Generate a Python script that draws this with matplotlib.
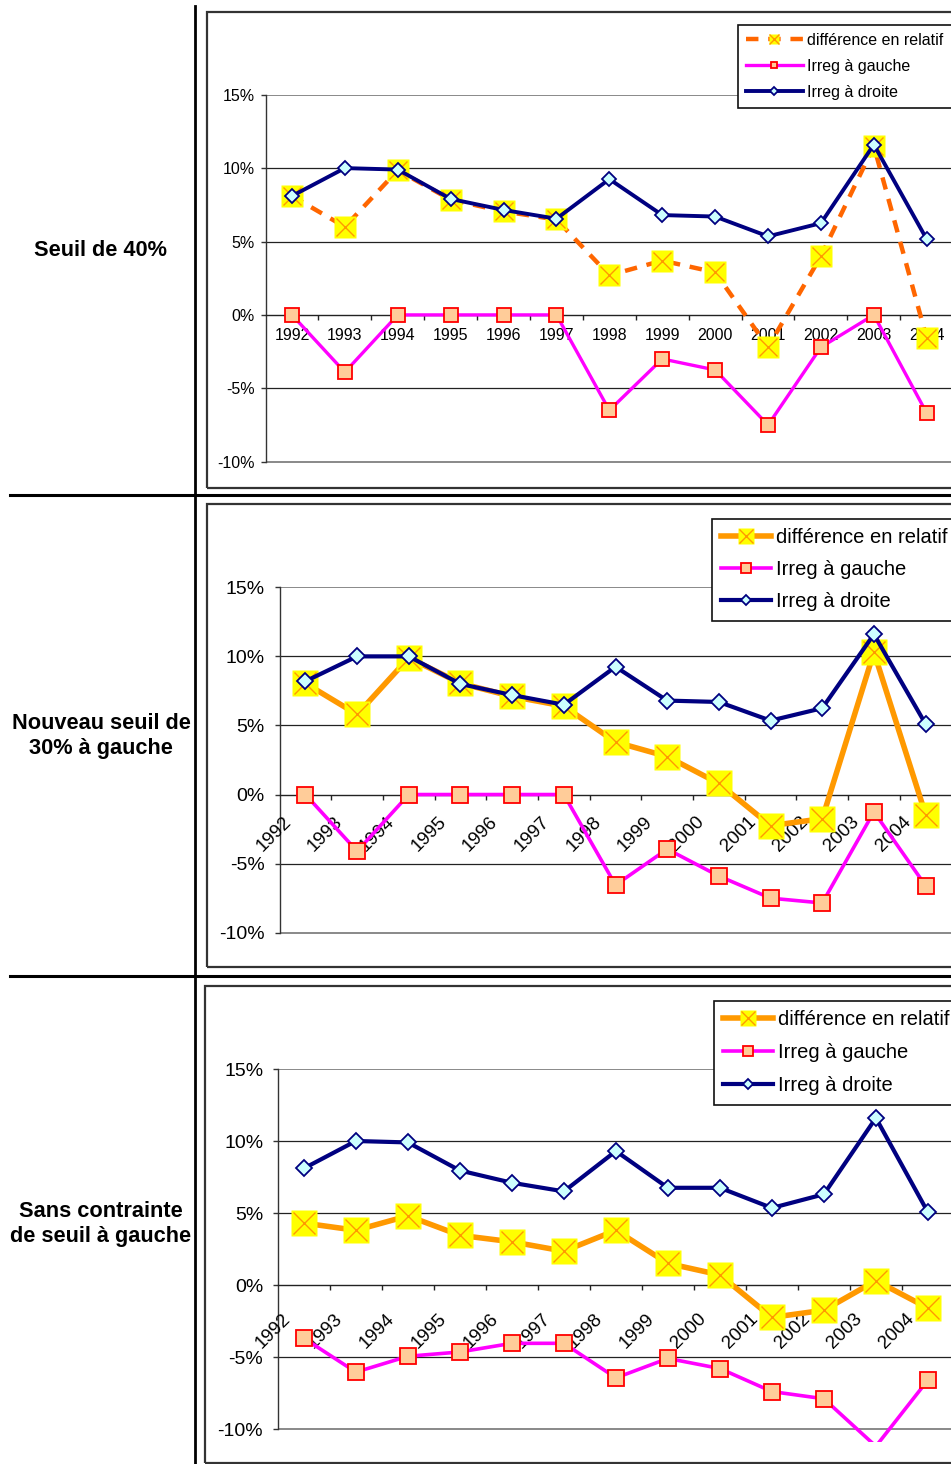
import matplotlib
matplotlib.use("Agg")
import matplotlib.pyplot as plt
import matplotlib.transforms as mtransforms
from matplotlib.patches import Rectangle
from matplotlib.lines import Line2D
from matplotlib.legend_handler import HandlerTuple
import numpy as np

plt.rcParams['font.family'] = ['Liberation Sans', 'DejaVu Sans']

# ---- data (in %) ----
years = ["1992", "1993", "1994", "1995", "1996", "1997", "1998",
         "1999", "2000", "2001", "2002", "2003", "2004"]
row_titles = ["Seuil de 40%", "Nouveau seuil de\n30% à gauche",
              "Sans contrainte\nde seuil à gauche"]
series_names = ["différence en relatif", "Irreg à gauche", "Irreg à droite"]
y_ticks = [-10, -5, 0, 5, 10, 15]
y_ticklabels = ["-10%", "-5%", "0%", "5%", "10%", "15%"]

diff_40 = [8.1, 6.0, 9.85, 7.85, 7.05, 6.5, 2.7, 3.7, 2.9, -2.2, 4.0, 11.5, -1.6]
gauche_40 = [0.0, -3.9, 0.0, 0.0, 0.0, 0.0, -6.5, -3.0, -3.75, -7.5, -2.2, 0.0, -6.7]
droite_40 = [8.1, 10.0, 9.9, 7.9, 7.15, 6.55, 9.25, 6.8, 6.7, 5.35, 6.25, 11.6, 5.15]

diff_30 = [8.05, 5.8, 9.9, 8.05, 7.1, 6.4, 3.8, 2.75, 0.8, -2.25, -1.75, 10.3, -1.45]
gauche_30 = [0.0, -4.1, 0.0, 0.0, 0.0, 0.0, -6.55, -3.95, -5.9, -7.5, -7.85, -1.25, -6.6]
droite_30 = [8.2, 10.0, 10.0, 8.0, 7.2, 6.5, 9.25, 6.8, 6.7, 5.35, 6.25, 11.6, 5.1]

diff_free = [4.3, 3.8, 4.8, 3.45, 3.0, 2.35, 3.8, 1.5, 0.7, -2.25, -1.75, 0.3, -1.6]
gauche_free = [-3.7, -6.05, -4.95, -4.65, -4.05, -4.05, -6.45, -5.1, -5.8, -7.4, -7.9, -11.2, -6.6]
droite_free = [8.1, 10.0, 9.9, 7.95, 7.1, 6.5, 9.3, 6.75, 6.75, 5.35, 6.3, 11.6, 5.05]

W, H = 951, 1464
fig = plt.figure(figsize=(W / 100, H / 100), dpi=100)
fig.patch.set_facecolor("white")

YMIN, YMAX = -10.9, 15

# layout of each panel in pixels
panels = [
    dict(data=(diff_40, gauche_40, droite_40), x0=265.5, step=52.9, y15=94.7, ym10=461.7,
         frame=(207, 12.5, 488), title_y=251, rot=False, lab_off=(0, -13),
         tick_fs=11.5, dlw=3.2, dash=True, glw=2.4, nlw=2.8,
         sq=15.5, gsq=9.5, dia=7.5, leg=(738, 26.5, 11.5, 0.5, 3.55, 0.68, 0.5)),
    dict(data=(diff_30, gauche_30, droite_30), x0=279.6, step=51.68, y15=587.3, ym10=932.7,
         frame=(207, 504.3, 966.7), title_y=736, rot=True, lab_off=(-11, -19),
         tick_fs=14, dlw=4.0, dash=False, glw=2.6, nlw=3.0,
         sq=18.5, gsq=11, dia=8.5, leg=(712, 520.7, 14.5, 0.6, 2.5, 0.65, 0.45)),
    dict(data=(diff_free, gauche_free, droite_free), x0=277.9, step=52.0, y15=1069, ym10=1429,
         frame=(205, 985.7, 1462.7), title_y=1224, rot=True, lab_off=(-10, -25),
         tick_fs=14, dlw=4.0, dash=False, glw=2.6, nlw=3.0,
         sq=19, gsq=11, dia=8.5, leg=(714, 1002.7, 14.5, 0.6, 2.5, 0.7, 0.45)),
]

x = np.arange(len(years))

for k, p in enumerate(panels):
    diff, gauche, droite = p["data"]
    # chart frame
    fx, ft, fb = p["frame"]
    fig.add_artist(Rectangle((fx / W, 1 - fb / H), (W + 20 - fx) / W, (fb - ft) / H,
                             transform=fig.transFigure, fill=False,
                             edgecolor="#333333", linewidth=1.6))
    # axes placement
    ppv = (p["ym10"] - p["y15"]) / 25.0
    ytop = p["y15"]
    ybot = p["y15"] + (YMAX - YMIN) * ppv
    width = 13 * p["step"]
    ax = fig.add_axes([p["x0"] / W, 1 - ybot / H, width / W, (ybot - ytop) / H])
    ax.set_xlim(-0.5, 12.5)
    ax.set_ylim(YMIN, YMAX)
    ax.patch.set_alpha(0)
    for s in ["top", "right"]:
        ax.spines[s].set_visible(False)
    ax.spines["left"].set_bounds(-10, 15)
    ax.spines["left"].set_color("#333333")
    ax.spines["left"].set_linewidth(1.0)
    ax.spines["bottom"].set_position(("data", 0))
    ax.spines["bottom"].set_color("#222222")
    ax.spines["bottom"].set_linewidth(1.0)

    for v in [10, 5, -5]:
        ax.axhline(v, color="#222222", lw=0.9, zorder=1)
    for v in [15, -10]:
        ax.axhline(v, color="#808080", lw=1.3, zorder=1)

    ax.set_yticks(y_ticks)
    ax.set_yticklabels(y_ticklabels, fontsize=p["tick_fs"])
    ax.tick_params(axis="y", direction="out", length=3.6, width=1, color="#333333",
                   pad=4 if not p["rot"] else 7)
    ax.set_xticks(np.arange(0.5, 12.5, 1))
    ax.set_xticklabels([])
    ax.tick_params(axis="x", direction="out", length=3.6, width=1, color="#222222")

    # category labels
    dx, dy = p["lab_off"]
    tr = mtransforms.offset_copy(ax.transData, fig=fig, x=dx, y=dy, units="dots")
    for i, yr in enumerate(years):
        if p["rot"]:
            ax.text(i, 0, yr, transform=tr, rotation=45, ha="right", va="top",
                    fontsize=13.5, clip_on=False)
        else:
            ax.text(i, 0, yr, transform=tr, ha="center", va="top",
                    fontsize=p["tick_fs"], clip_on=False)

    # series
    orange = "#FF6600" if p["dash"] else "#FF9900"
    if p["dash"]:
        l_diff, = ax.plot(x, diff, color=orange, lw=p["dlw"], dashes=(2.8, 2.2), zorder=3)
    else:
        l_diff, = ax.plot(x, diff, color=orange, lw=p["dlw"], zorder=3)
    m_sq, = ax.plot(x, diff, ls="none", marker="s", ms=p["sq"], mfc="#FFFF00",
                    mec="none", zorder=3.1)
    m_x, = ax.plot(x, diff, ls="none", marker="x", ms=p["sq"] * 0.85, mec="#FF9900",
                   mew=1.0, zorder=3.2)
    visible = [i for i, v in enumerate(gauche) if v >= -10]
    l_g, = ax.plot(x, gauche, color="#FF00FF", lw=p["glw"], marker="s", ms=p["gsq"],
                   mfc="#FFCC99", mec="#FF0000", mew=1.3, markevery=visible, zorder=4)
    l_d, = ax.plot(x, droite, color="#000080", lw=p["nlw"], marker="D", ms=p["dia"],
                   mfc="#CCFFFF", mec="#000080", mew=1.3, zorder=5)

    lx, ly, lfs, mscale, hlen, lspace, bpad = p["leg"]
    leg = ax.legend([(l_diff, m_sq, m_x), l_g, l_d], series_names,
                    handler_map={tuple: HandlerTuple(ndivide=1, pad=0)},
                    loc="upper left",
                    bbox_to_anchor=(lx / W, 1 - ly / H, (W + 40 - lx) / W, 0.001),
                    mode="expand",
                    bbox_transform=fig.transFigure, borderaxespad=0,
                    fontsize=lfs, markerscale=mscale, handlelength=hlen,
                    handletextpad=0.25, labelspacing=lspace, borderpad=bpad,
                    fancybox=False, framealpha=1, edgecolor="#111111")
    leg.get_frame().set_linewidth(1.2)
    leg.set_zorder(10)

    # row title
    fig.text(101 / W, 1 - p["title_y"] / H, row_titles[k],
             ha="center", va="center", fontsize=15.7, fontweight="bold",
             linespacing=1.3)

# table rules
fig.add_artist(Line2D([195 / W, 195 / W], [1 - 6 / H, 0], transform=fig.transFigure,
                      color="black", lw=2.0))
for yy in [494.5, 975.5]:
    fig.add_artist(Line2D([10 / W, 1], [1 - yy / H, 1 - yy / H], transform=fig.transFigure,
                          color="black", lw=2.2))

fig.savefig("out.png", dpi=100)
